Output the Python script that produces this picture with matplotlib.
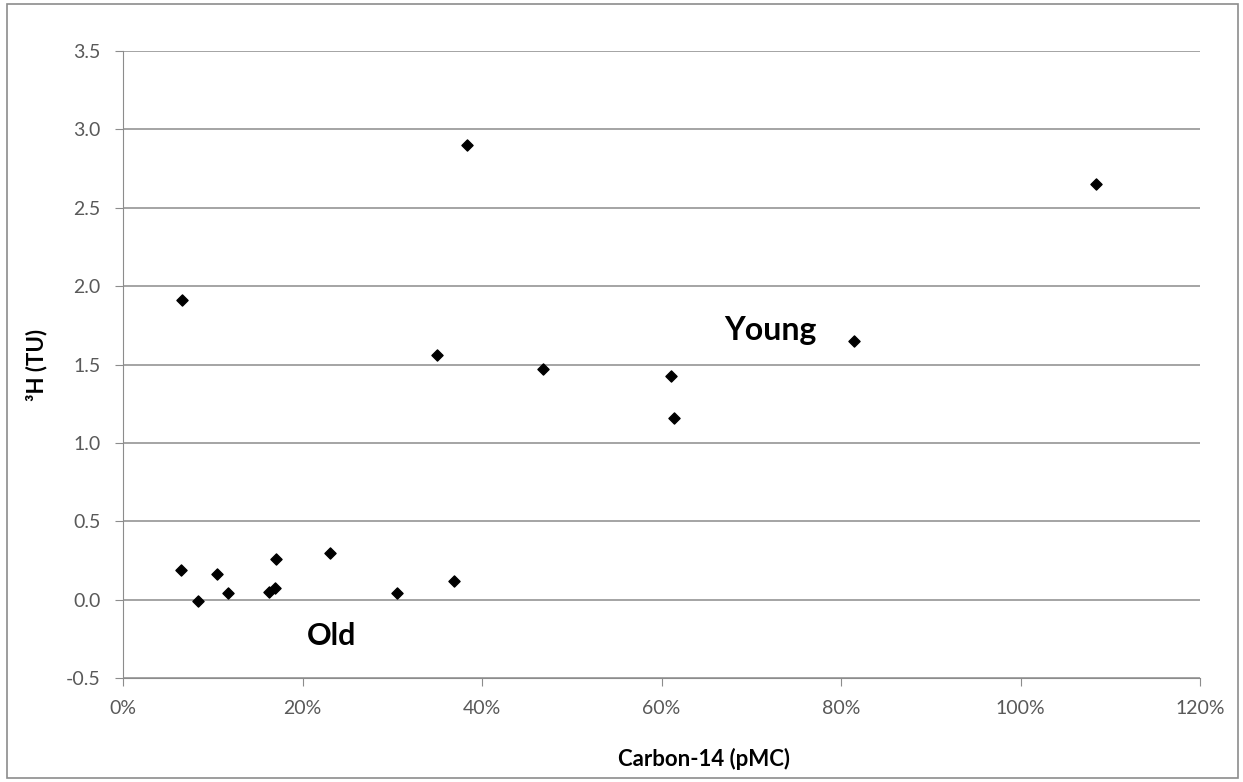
import matplotlib.pyplot as plt
from matplotlib.patches import Rectangle
from matplotlib.ticker import PercentFormatter

plt.rcParams['font.family'] = ['Lato', 'DejaVu Sans']

# Carbon-14 (fraction of modern carbon) and tritium (TU)
carbon14 = [0.066, 0.383, 1.084, 0.350, 0.468, 0.611, 0.614, 0.814,
            0.065, 0.084, 0.105, 0.117, 0.163, 0.169, 0.170, 0.231,
            0.305, 0.369]
tritium = [1.91, 2.90, 2.65, 1.56, 1.47, 1.425, 1.16, 1.65,
           0.187, -0.01, 0.166, 0.043, 0.05, 0.075, 0.26, 0.30,
           0.04, 0.12]

fig = plt.figure(figsize=(12.43, 7.82), dpi=100)
ax = fig.add_axes([123 / 1243, 1 - 678 / 782, (1200 - 123) / 1243, (678 - 51) / 782])

ax.scatter(carbon14, tritium, marker='D', s=32, color='black', zorder=3)

ax.set_xlim(0, 1.2)
ax.set_ylim(-0.5, 3.5)
ax.set_xticks([0, 0.2, 0.4, 0.6, 0.8, 1.0, 1.2])
ax.set_yticks([-0.5, 0, 0.5, 1.0, 1.5, 2.0, 2.5, 3.0, 3.5])
ax.xaxis.set_major_formatter(PercentFormatter(1.0, decimals=0))
ax.yaxis.set_major_formatter(plt.FormatStrFormatter('%.1f'))
ax.grid(axis='y', color='#8c8c8c', linewidth=1.1)
ax.set_axisbelow(True)
for side in ['top', 'right']:
    ax.spines[side].set_visible(False)
for side in ['left', 'bottom']:
    ax.spines[side].set_color('#8c8c8c')
ax.tick_params(axis='both', colors='#8c8c8c', labelcolor='#595959',
               labelsize=14, length=6, direction='out')
ax.tick_params(axis='x', pad=10)
ax.tick_params(axis='y', pad=10)

ax.set_xlabel('Carbon-14 (pMC)', fontsize=16, fontweight='bold')
ax.xaxis.set_label_coords(0.539, -0.112)
ax.set_ylabel('³H (TU)', fontsize=16, fontweight='bold')
ax.yaxis.set_label_coords(-0.070, 0.5)

ax.text(0.67, 1.72, 'Young', fontsize=23, fontweight='bold', va='center')
ax.text(0.205, -0.235, 'Old', fontsize=22, fontweight='bold', va='center')

fig.patches.append(Rectangle((7 / 1243, 4 / 782), 1 - 12 / 1243, 1 - 8 / 782,
                             transform=fig.transFigure, fill=False,
                             edgecolor='#8c8c8c', linewidth=1.2))

fig.savefig('out.png', dpi=100)
